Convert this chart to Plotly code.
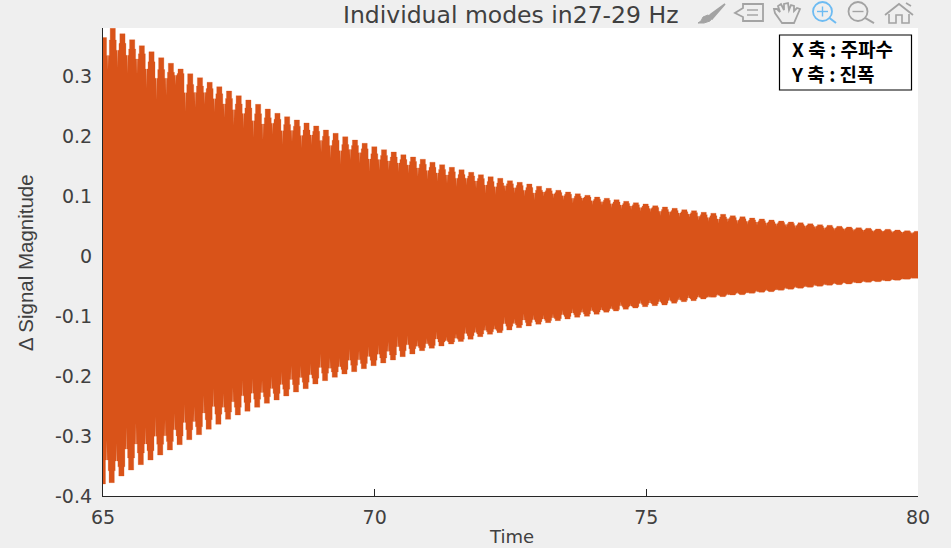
import plotly.graph_objects as go

TITLE = "Individual modes in27-29 Hz"
X_LABEL = "Time"
Y_LABEL = "Δ Signal Magnitude"
X_TICKS = [65, 70, 75, 80]
Y_TICKS = [-0.4, -0.3, -0.2, -0.1, 0, 0.1, 0.2, 0.3]
Y_TICK_TEXT = ["-0.4", "-0.3", "-0.2", "-0.1", "0", "0.1", "0.2", "0.3"]
NOTE_LINES = ["X 축 : 주파수", "Y 축 : 진폭"]

# Upper edge of the signal, one entry per visible beat
upper_times = [65.18,65.358,65.537,65.715,65.893,66.072,66.25,66.428,66.606,66.785,
66.963,67.141,67.32,67.498,67.676,67.855,68.033,68.211,68.389,68.568,
68.746,68.924,69.103,69.281,69.459,69.638,69.816,69.994,70.172,70.351,
70.529,70.707,70.886,71.064,71.242,71.421,71.599,71.777,71.955,72.134,
72.312,72.49,72.669,72.847,73.025,73.204,73.382,73.56,73.738,73.917,
74.095,74.273,74.452,74.63,74.808,74.987,75.165,75.343,75.521,75.7,
75.878,76.056,76.235,76.413,76.591,76.77,76.948,77.126,77.304,77.483,
77.661,77.839,78.018,78.196,78.374,78.553,78.731,78.909,79.087,79.266,
79.444,79.622,79.801,79.979]
upper_peaks = [.3795,.3705,.3605,.3505,.3405,.3305,.3212,.3117,.3038,.2972,.2895,.2822,.275,.2672,.26,
.2528,.245,.2378,.2322,.2267,.2217,.2167,.21,.2045,.1988,.1933,.1878,.1822,.1772,.1733,.1688,.165,
.1612,.1562,.1522,.1478,.1438,.1395,.1355,.1322,.1295,.1255,.1228,.12,.1162,.1128,.1095,.1067,.1038,.1012,
.0983,.0962,.0938,.0912,.0888,.0867,.0838,.0817,.0795,.0772,.0755,
.0728,.0712,.0695,.0672,.0655,.0633,.0617,.06,.0583,.0567,.0555,.0538,.0522,.0512,.0495,.0483,.0472,.0462,.045,.0445,.0433,.0422,.0412]
upper_notches = [.31,.313,.305,.302,.28,.26,.268,.285,.24,.247,.252,.24,.23,.218,.213,
.197,.193,.202,.185,.19,.18,.185,.173,.163,.152,.16,.155,.14,.143,.143,.14,.138,
.132,.127,.124,.121,.115,.118,.113,.104,.102,.107,.104,.099,.093,.099,.096,.093,.088,.091,
.085,.084,.08,.078,.077,.074,.073,.067,.067,.065,.064,
.059,.057,.054,.056,.053,.052,.051,.05,.049,.048,.046,.046,.045,.043,.042,.042,.041,.04,.039,.039,.038,.037,.036]

# Lower edge of the signal
lower_times = [65.02,65.16,65.339,65.517,65.696,65.874,66.053,66.231,66.41,66.588,66.767,
66.945,67.124,67.302,67.481,67.659,67.838,68.016,68.195,68.373,68.552,
68.73,68.909,69.087,69.266,69.444,69.623,69.801,69.98,70.158,70.337,
70.515,70.694,70.872,71.051,71.229,71.408,71.586,71.765,71.943,72.122,
72.3,72.479,72.657,72.836,73.014,73.193,73.371,73.55,73.728,73.907,
74.085,74.264,74.442,74.621,74.799,74.978,75.156,75.335,75.513,75.692,
75.87,76.049,76.227,76.406,76.584,76.763,76.941,77.12,77.298,77.477,
77.655,77.834,78.012,78.191,78.369,78.548,78.726,78.905,79.083,79.262,
79.44,79.619,79.797,79.976]
lower_peaks = [-.38,-.3778,-.3667,-.3567,-.3478,-.34,-.3317,-.3233,-.3145,-.3062,-.2978,-.2888,-.2805,-.2722,-.265,-.2588,
-.2522,-.2455,-.24,-.2333,-.2267,-.2212,-.2133,-.2078,-.2022,-.1967,-.1928,-.1878,-.1828,-.1783,-.1733,-.1678,-.1633,
-.1578,-.1538,-.15,-.1467,-.1425,-.1388,-.1345,-.1305,-.1278,-.1233,-.1195,-.1167,-.1138,-.1112,-.1078,-.105,-.1022,-.1005,-.0972,-.0938,-.0917,-.0888,-.0867,-.0845,-.0828,-.0817,-.0788,-.0762,-.0745,-.0717,
-.0688,-.0678,-.065,-.0645,-.0622,-.0605,-.0595,-.0572,-.0555,-.0538,-.0522,-.0505,-.0488,-.0478,-.0467,-.045,-.0438,-.0428,-.0417,-.0405,-.0388,-.0378]
lower_notches = [-.307,-.312,-.285,-.278,-.285,-.268,-.273,-.262,-.247,-.251,-.232,-.22,-.229,-.219,-.207,
-.204,-.207,-.201,-.193,-.183,-.183,-.179,-.163,-.17,-.17,-.155,-.157,-.151,-.148,-.143,-.133,-.132,
-.14,-.137,-.126,-.134,-.129,-.118,-.118,-.115,-.115,-.101,-.104,-.096,-.098,-.098,-.096,-.09,-.087,-.087,-.084,-.084,-.083,-.076,-.079,-.073,-.073,-.071,-.068,-.068,-.065,-.064,
-.066,-.063,-.062,-.06,-.059,-.057,-.055,-.054,-.052,-.05,-.049,-.047,-.046,-.044,-.043,-.042,-.041,-.04,-.039,-.038,-.037,-.036]

X_START, X_END = 65, 80
ORANGE = "#D95319"
BG = "#EFEFEF"
DARK = "#404040"


def edge(times, peaks, notches, first_level):
    """Outline of one edge: plateau, shoulder, short gap and a hair-thin notch per beat."""
    xs, ys = [X_START], [first_level]
    for i, (t, p, n) in enumerate(zip(times, peaks, notches)):
        prev_t = times[i - 1] if i else t - (times[1] - times[0])
        mid = (prev_t + t) / 2
        sp = t - prev_t
        prev_p = peaks[i - 1] if i else first_level
        left_gap = n + 0.45 * (prev_p - n)
        shoulder = n + 0.72 * (p - n)
        xs += [mid - 0.14 * sp, mid - 0.14 * sp, mid - 0.006, mid, mid + 0.006,
               mid + 0.14 * sp, mid + 0.14 * sp, t - 0.27 * sp, t - 0.27 * sp,
               t + 0.27 * sp, t + 0.27 * sp, t + 0.36 * sp]
        ys += [ys[-1], left_gap, left_gap, n, left_gap,
               left_gap, shoulder, shoulder, p, p, shoulder, shoulder]
    xs.append(X_END)
    ys.append(ys[-1])
    return xs, ys


ux, uy = edge(upper_times, upper_peaks, upper_notches, 0.364)
lx, ly = edge(lower_times[1:], lower_peaks[1:], lower_notches, lower_peaks[0])

fig = go.Figure()
fig.add_trace(go.Scatter(
    x=ux + lx[::-1], y=uy + ly[::-1], mode="lines", fill="toself",
    fillcolor=ORANGE, line=dict(color="rgba(217,83,25,0.35)", width=0.8),
    hoverinfo="skip", showlegend=False,
))

W, H = 951, 548
L, R, T, B = 103, 918, 28, 496


def px(x):
    return (x - L) / (R - L)


def py(y):
    return 1 - (y - T) / (B - T)


def path(points, close=False):
    s = "M " + " L ".join(f"{px(x):.5f},{py(y):.5f}" for x, y in points)
    return s + (" Z" if close else "")


GREY = "#A3A3A3"
BLUE = "#6DBBF2"
shapes = []


def line_icon(points, color=GREY, width=1.8, close=False, fill=None):
    shapes.append(dict(type="path", xref="paper", yref="paper", path=path(points, close),
                       line=dict(color=color, width=width),
                       fillcolor=fill if fill else "rgba(0,0,0,0)"))


def circle_icon(cx, cy, r, color):
    shapes.append(dict(type="circle", xref="paper", yref="paper", x0=px(cx - r), x1=px(cx + r),
                       y0=py(cy + r), y1=py(cy - r), line=dict(color=color, width=1.8)))


# brush
line_icon([(725, 4), (711, 14), (708, 17), (712, 19), (725, 4)], width=1.6, close=True, fill=GREY)
line_icon([(708, 15), (703, 17), (701, 21), (698, 23), (704, 23), (710, 21), (712, 18)], width=1, close=True, fill=GREY)
# data tip
line_icon([(743, 4), (763, 4), (763, 21), (743, 21), (743, 17), (735, 13), (743, 8)], close=True)
line_icon([(747, 10), (758, 10)], width=1.4)
line_icon([(747, 15), (758, 15)], width=1.4)
# hand
line_icon([(782, 23), (775, 13), (774, 9), (777, 9), (780, 12), (778, 6), (781, 4), (784, 10), (784, 4),
           (788, 3), (789, 10), (791, 5), (794, 6), (794, 11), (797, 8), (800, 9), (797, 16), (794, 23)], close=True)
# zoom in
circle_icon(822.5, 11.5, 9.5, BLUE)
line_icon([(829.5, 18), (836, 23)], color=BLUE, width=2)
line_icon([(817, 11.5), (828, 11.5)], color=BLUE, width=1.4)
line_icon([(822.5, 6.5), (822.5, 16.5)], color=BLUE, width=1.4)
# zoom out
circle_icon(858, 11.5, 9.5, GREY)
line_icon([(865, 18), (874, 23)], width=2)
line_icon([(852.5, 11.5), (863.5, 11.5)], width=1.4)
# home
line_icon([(885, 15), (899, 4), (913, 15)], width=1.8)
line_icon([(889, 14), (889, 23), (896, 23), (896, 15), (902, 15), (902, 23), (909, 23), (909, 14)], width=1.6)
line_icon([(906, 3), (911, 6)], width=1.6)
# note box
shapes.append(dict(type="rect", xref="paper", yref="paper", x0=px(779.5), x1=px(911.5), y0=py(90), y1=py(35),
                   fillcolor="white", line=dict(color="black", width=1.2)))

annotations = [
    dict(text=TITLE, x=px(510.5), y=py(0), xref="paper", yref="paper", showarrow=False, yanchor="top",
         borderpad=0, font=dict(family="DejaVu Sans", size=23.5, color=DARK)),
    dict(text=f"<b>{NOTE_LINES[0]}<br>{NOTE_LINES[1]}</b>", x=px(789), y=py(61.5), xref="paper", yref="paper",
         xanchor="left", yanchor="middle", align="left", showarrow=False,
         font=dict(family="Noto Sans CJK KR", size=19, color="black")),
    dict(text=X_LABEL, x=px(511), y=py(548), xref="paper", yref="paper", showarrow=False, yanchor="bottom",
         borderpad=0, font=dict(family="DejaVu Sans", size=18, color=DARK)),
    dict(text=Y_LABEL, x=px(25), y=py(263), xref="paper", yref="paper", showarrow=False, textangle=-90,
         xanchor="center", yanchor="middle", font=dict(family="Liberation Sans", size=20.5, color=DARK)),
]

fig.update_layout(
    width=W, height=H, margin=dict(l=L, r=W - R, t=T, b=H - B, pad=0, autoexpand=False),
    paper_bgcolor=BG, plot_bgcolor="white", showlegend=False,
    shapes=shapes, annotations=annotations,
    xaxis=dict(range=[X_START, X_END], tickmode="array", tickvals=X_TICKS, ticks="inside", ticklen=7,
               tickcolor="#262626", tickwidth=1, showline=True, linecolor="#262626", linewidth=1.2,
               showgrid=False, zeroline=False, layer="below traces", automargin=False, ticklabelstandoff=4,
               tickfont=dict(family="DejaVu Sans", size=19, color=DARK)),
    yaxis=dict(range=[-0.4, 0.38], tickmode="array", tickvals=Y_TICKS, ticktext=Y_TICK_TEXT, ticks="inside",
               ticklen=7, tickcolor="#262626", tickwidth=1, showline=True, linecolor="#262626", linewidth=1.2,
               showgrid=False, zeroline=False, layer="below traces", automargin=False, ticklabelstandoff=6,
               tickfont=dict(family="DejaVu Sans", size=19, color=DARK)),
)

fig.write_html("out.html", config=dict(displayModeBar=False),
               post_script=f"document.body.style.margin='0';document.body.style.background='{BG}';")
